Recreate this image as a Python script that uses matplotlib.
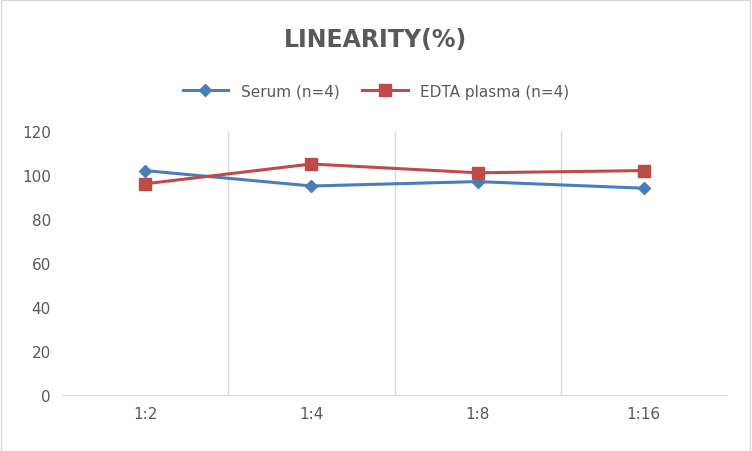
import matplotlib
matplotlib.use("Agg")
import matplotlib.pyplot as plt
from matplotlib.patches import Rectangle

categories = ["1:2", "1:4", "1:8", "1:16"]
serum = [102, 95, 97, 94]
edta = [96, 105, 101, 102]
yticks = [0, 20, 40, 60, 80, 100, 120]

fig = plt.figure(figsize=(7.52, 4.52), dpi=100)
fig.patches.append(Rectangle((0.001, 0.001), 0.997, 0.997, transform=fig.transFigure,
                             fill=False, edgecolor="#d9d9d9", linewidth=1))
ax = fig.add_axes([62/752, 1-396/452, 665/752, 264/452])
x = list(range(len(categories)))
ax.plot(x, serum, color="#4a7ebb", marker="D", markersize=6, linewidth=2.2, label="Serum (n=4)")
ax.plot(x, edta, color="#be4b48", marker="s", markersize=9, linewidth=2.2, label="EDTA plasma (n=4)")
ax.set_xlim(-0.5, 3.5)
ax.set_ylim(0, 120)
ax.set_yticks(yticks)
ax.set_xticks(x)
ax.set_xticklabels(categories)
for b in [0.5, 1.5, 2.5]:
    ax.axvline(b, color="#d9d9d9", linewidth=1, zorder=0)
for s in ["top", "right", "left"]:
    ax.spines[s].set_visible(False)
ax.spines["bottom"].set_color("#d9d9d9")
ax.tick_params(length=0, labelsize=11, colors="#595959", pad=8)
fig.text(0.5, 1-40/452, "LINEARITY(%)", ha="center", va="center", fontsize=17,
         fontweight="bold", color="#595959")
fig.legend(loc="center", bbox_to_anchor=(0.5, 1-92/452), ncol=2, frameon=False,
           fontsize=11, labelcolor="#595959", handlelength=3, columnspacing=1.5)
fig.savefig("out.png", dpi=100)
